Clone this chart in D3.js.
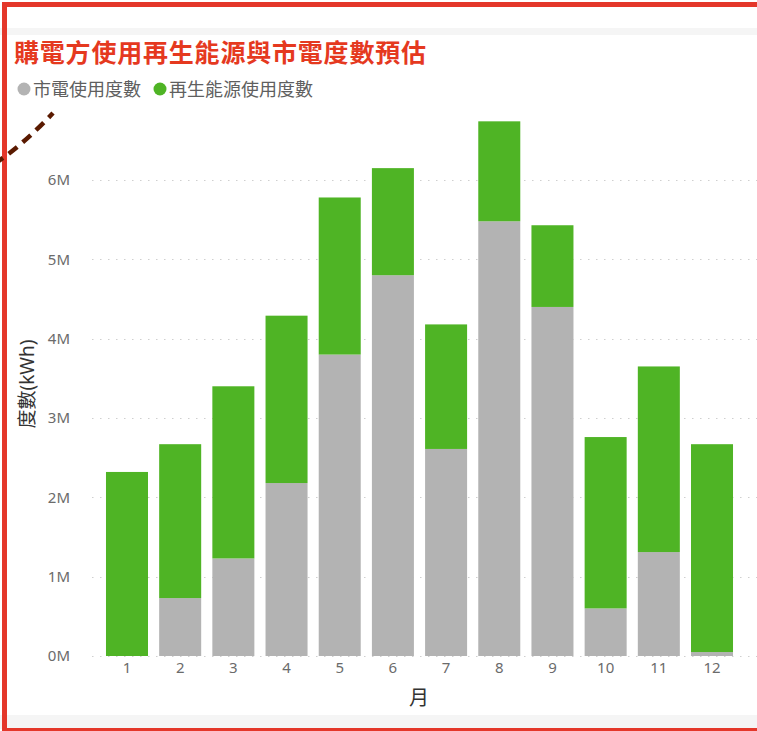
<!DOCTYPE html>
<html>
<head>
<meta charset="utf-8">
<script src="https://cdn.jsdelivr.net/npm/d3@7/dist/d3.min.js"></script>
<style>
  html, body { margin: 0; padding: 0; background: #fff; }
  svg { display: block; }
  text { font-family: "Noto Sans", "Noto Sans CJK TC", sans-serif; }
</style>
</head>
<body>
<svg id="chart" width="757" height="731"></svg>
<script>
// Monthly electricity estimate (kWh)
const months = [1, 2, 3, 4, 5, 6, 7, 8, 9, 10, 11, 12];
const gridKWh = [0, 730000, 1230000, 2180000, 3800000, 4800000, 2610000, 5480000, 4400000, 600000, 1310000, 50000];
const renewableKWh = [2320000, 1940000, 2170000, 2110000, 1980000, 1350000, 1570000, 1260000, 1030000, 2160000, 2340000, 2620000];
const seriesNames = ["市電使用度數", "再生能源使用度數"];
const seriesColors = ["#b3b3b3", "#4fb425"];
const yTicks = [0, 1e6, 2e6, 3e6, 4e6, 5e6, 6e6];

const svg = d3.select("#chart");
const W = 757, H = 731;

// page bands
svg.append("rect").attr("x", 0).attr("y", 0).attr("width", W).attr("height", H).attr("fill", "#fff");
svg.append("rect").attr("x", 0).attr("y", 28).attr("width", W).attr("height", 7).attr("fill", "#f5f5f5");
svg.append("rect").attr("x", 0).attr("y", 715).attr("width", W).attr("height", 14).attr("fill", "#f5f5f5");

// frame
svg.append("rect")
  .attr("x", 4.5).attr("y", 4.5).attr("width", 820).attr("height", 726)
  .attr("fill", "none").attr("stroke", "#e4372a").attr("stroke-width", 5);

const table = months.map((m, i) => ({ month: m, grid: gridKWh[i], renewable: renewableKWh[i] }));
const stacked = d3.stack().keys(["grid", "renewable"])(table);

const x = d3.scaleBand().domain(months).range([100.4, 738.6]).paddingInner(0.21).paddingOuter(0.105);
const y = d3.scaleLinear().domain([0, 7e6]).range([656, 100.7]);

// gridlines
svg.append("g").selectAll("line").data(yTicks).join("line")
  .attr("x1", 92).attr("x2", W)
  .attr("y1", d => Math.round(y(d)) + 0.5).attr("y2", d => Math.round(y(d)) + 0.5)
  .attr("stroke", "#cfcfcf").attr("stroke-width", 1.2).attr("stroke-dasharray", "1.5,6.5");

// y axis labels
const yAxis = d3.axisLeft(y).tickValues(yTicks).tickSize(0).tickPadding(0)
  .tickFormat(d => (d / 1e6) + "M");
const ga = svg.append("g").attr("transform", "translate(70,0)").call(yAxis);
ga.select(".domain").remove();
ga.selectAll("text").attr("fill", "#6b6b6b").style("font-size", "15px");

// bars
svg.append("g").selectAll("g").data(stacked).join("g")
  .attr("fill", (d, i) => seriesColors[i])
  .selectAll("rect").data(d => d).join("rect")
  .attr("x", d => x(d.data.month))
  .attr("width", x.bandwidth())
  .attr("y", d => y(d[1]))
  .attr("height", d => Math.max(0, y(d[0]) - y(d[1])));

// x axis labels
const xAxis = d3.axisBottom(x).tickSize(0).tickPadding(0);
const gx = svg.append("g").attr("transform", "translate(0,662)").call(xAxis);
gx.select(".domain").remove();
gx.selectAll("text").attr("fill", "#6b6b6b").style("font-size", "15px");

// axis titles
svg.append("text").attr("x", 419).attr("y", 705).attr("text-anchor", "middle")
  .attr("fill", "#333").style("font-size", "20px").text("月");
svg.append("text").attr("transform", "translate(34,384) rotate(-90)").attr("text-anchor", "middle")
  .attr("fill", "#333").style("font-size", "19px").text("度數(kWh)");

// title
svg.append("text").attr("x", 14).attr("y", 62)
  .attr("fill", "#e5391f").style("font-size", "25px").style("font-weight", "bold")
  .style("letter-spacing", "0.8px")
  .text("購電方使用再生能源與市電度數預估");

// legend
const legendX = [24, 160];
seriesNames.forEach((name, i) => {
  svg.append("circle").attr("cx", legendX[i]).attr("cy", 89).attr("r", 6.5).attr("fill", seriesColors[i]);
  svg.append("text").attr("x", legendX[i] + 9).attr("y", 96)
    .attr("fill", "#5f5f5f").style("font-size", "18px").text(name);
});

// dashed connector entering from the left
svg.append("path")
  .attr("d", "M -6 164 Q 22 146 53 113")
  .attr("fill", "none").attr("stroke", "#5a1a00").attr("stroke-width", 4.5)
  .attr("stroke-dasharray", "11,7");
</script>
</body>
</html>
